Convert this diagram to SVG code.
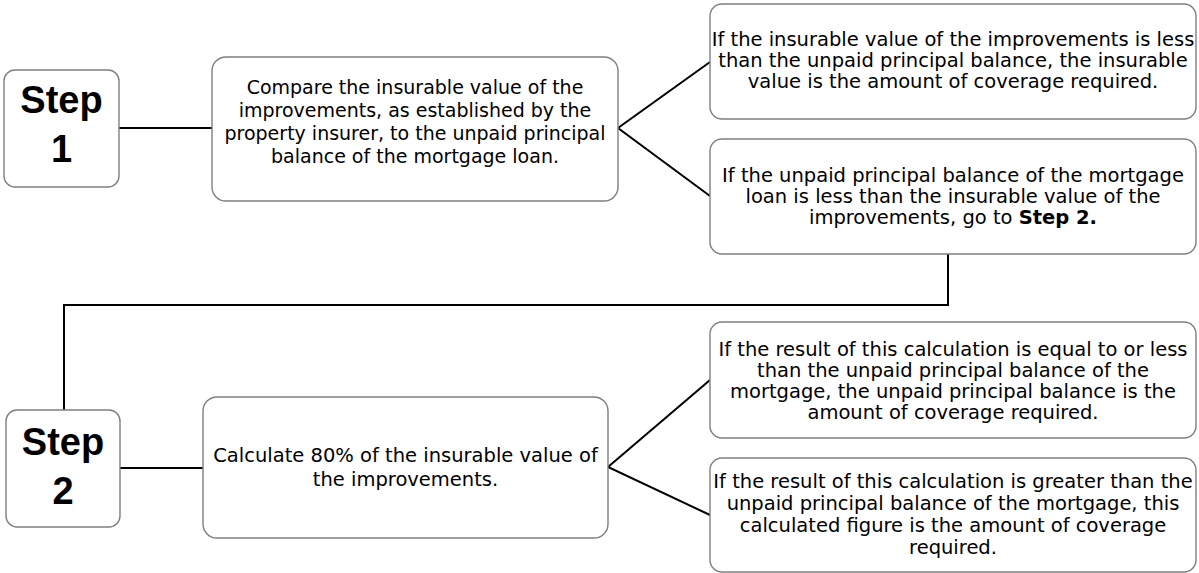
<svg xmlns="http://www.w3.org/2000/svg" width="1199" height="573" viewBox="0 0 1199 573">
<style>
.box{fill:#fff;stroke:#7f7f7f;stroke-width:1.4}
.conn{fill:none;stroke:#000;stroke-width:2}
.t{font-family:"DejaVu Sans",sans-serif;font-size:19px;fill:#000;text-anchor:middle}
.r{font-size:19.5px}
.step{font-family:"Liberation Sans",Arial,sans-serif;font-weight:bold;font-size:38px;fill:#000;text-anchor:middle}
</style>
<rect width="1199" height="573" fill="#fff"/>
<g id="connectors">
<line class="conn" x1="119" y1="128" x2="212" y2="128"/>
<polyline class="conn" points="710,62 618,128 710,196"/>
<polyline class="conn" points="948,254 948,305 64,305 64,410"/>
<line class="conn" x1="120" y1="468" x2="203" y2="468"/>
<polyline class="conn" points="710,380 608,467 710,515"/>
</g>
<g id="step1">
<rect class="box" x="4" y="70" width="115" height="117" rx="11"/>
<text class="step" x="61.5" y="113">Step</text>
<text class="step" x="61.5" y="162">1</text>
</g>
<g id="compare">
<rect class="box" x="212" y="57" width="406" height="144" rx="14"/>
<text class="t"><tspan x="415" y="94">Compare the insurable value of the</tspan><tspan x="415" y="117">improvements, as established by the</tspan><tspan x="415" y="140">property insurer, to the unpaid principal</tspan><tspan x="415" y="163">balance of the mortgage loan.</tspan></text>
</g>
<g id="boxA">
<rect class="box" x="710" y="4" width="486" height="115" rx="12"/>
<text class="t r"><tspan x="953" y="46">If the insurable value of the improvements is less</tspan><tspan x="953" y="67">than the unpaid principal balance, the insurable</tspan><tspan x="953" y="88">value is the amount of coverage required.</tspan></text>
</g>
<g id="boxB">
<rect class="box" x="710" y="139" width="486" height="115" rx="12"/>
<text class="t r"><tspan x="953" y="181.5">If the unpaid principal balance of the mortgage</tspan><tspan x="953" y="202.5">loan is less than the insurable value of the</tspan><tspan x="953" y="223.5">improvements, go to <tspan font-weight="bold">Step 2.</tspan></tspan></text>
</g>
<g id="step2">
<rect class="box" x="6" y="410" width="114" height="117" rx="11"/>
<text class="step" x="63" y="455">Step</text>
<text class="step" x="63" y="504">2</text>
</g>
<g id="calculate">
<rect class="box" x="203" y="397" width="405" height="141" rx="14"/>
<text class="t r"><tspan x="405.5" y="462">Calculate 80% of the insurable value of</tspan><tspan x="405.5" y="486">the improvements.</tspan></text>
</g>
<g id="boxC">
<rect class="box" x="710" y="322" width="486" height="116" rx="12"/>
<text class="t r"><tspan x="953" y="356">If the result of this calculation is equal to or less</tspan><tspan x="953" y="377">than the unpaid principal balance of the</tspan><tspan x="953" y="398">mortgage, the unpaid principal balance is the</tspan><tspan x="953" y="419">amount of coverage required.</tspan></text>
</g>
<g id="boxD">
<rect class="box" x="710" y="458" width="486" height="114" rx="12"/>
<text class="t r"><tspan x="953" y="488">If the result of this calculation is greater than the</tspan><tspan x="953" y="510">unpaid principal balance of the mortgage, this</tspan><tspan x="953" y="532">calculated figure is the amount of coverage</tspan><tspan x="953" y="554">required.</tspan></text>
</g>
</svg>
